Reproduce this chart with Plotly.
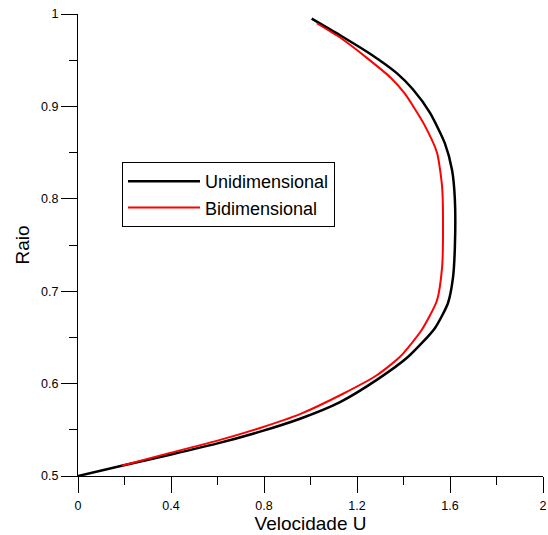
import plotly.graph_objects as go

# Unidimensional (black) curve: velocity U vs radius
uni_u = [0.0, 0.188, 0.396, 0.596, 0.783, 0.955, 1.127, 1.285, 1.42, 1.535, 1.591,
         1.613, 1.621, 1.621, 1.609, 1.578, 1.514, 1.442, 1.371, 1.256, 1.127, 1.005]
uni_r = [0.500, 0.511, 0.523, 0.535, 0.548, 0.562, 0.580, 0.604, 0.629, 0.660, 0.687,
         0.715, 0.748, 0.799, 0.831, 0.860, 0.893, 0.918, 0.936, 0.957, 0.977, 0.995]

# Bidimensional (red) curve
bi_u = [0.188, 0.396, 0.596, 0.783, 0.955, 1.14, 1.285, 1.385, 1.478, 1.544, 1.566,
        1.570, 1.566, 1.544, 1.49, 1.447, 1.405, 1.345, 1.245, 1.13, 1.027]
bi_r = [0.511, 0.525, 0.538, 0.552, 0.567, 0.589, 0.609, 0.629, 0.658, 0.690, 0.726,
        0.769, 0.813, 0.850, 0.880, 0.898, 0.914, 0.931, 0.952, 0.974, 0.990]

x_ticks = [0, 0.4, 0.8, 1.2, 1.6, 2]
x_labels = ["0", "0.4", "0.8", "1.2", "1.6", "2"]
y_ticks = [0.5, 0.6, 0.7, 0.8, 0.9, 1.0]
y_labels = ["0.5", "0.6", "0.7", "0.8", "0.9", "1"]

FONT = "Liberation Sans, Arial, sans-serif"

fig = go.Figure()
fig.add_trace(go.Scatter(x=uni_u, y=uni_r, mode="lines", name="Unidimensional",
                         line=dict(color="black", width=2.5, shape="spline", smoothing=0.6)))
fig.add_trace(go.Scatter(x=bi_u, y=bi_r, mode="lines", name="Bidimensional",
                         line=dict(color="#ff0000", width=2, shape="spline", smoothing=0.6)))

axis_common = dict(
    showgrid=False, zeroline=False, showline=True, linecolor="black", linewidth=1,
    ticks="outside", ticklen=16, tickwidth=1, tickcolor="black", automargin=False,
    ticklabeloverflow="allow",
    tickfont=dict(family=FONT, size=12.5, color="black"),
)

fig.update_xaxes(range=[0, 2], tickvals=x_ticks, ticktext=x_labels, ticklabelstandoff=2,
                 minor=dict(dtick=0.2, ticks="outside", ticklen=8, tickcolor="black", tickwidth=1),
                 title=dict(text="Velocidade U", font=dict(family=FONT, size=19, color="black"), standoff=0),
                 **axis_common)
fig.update_yaxes(range=[0.5, 1], tickvals=y_ticks, ticktext=y_labels,
                 minor=dict(dtick=0.05, ticks="outside", ticklen=8, tickcolor="black", tickwidth=1),
                 title=dict(text="Raio", font=dict(family=FONT, size=19, color="black"), standoff=6),
                 **axis_common)

fig.update_layout(
    width=548, height=535,
    margin=dict(l=78, r=5, t=14, b=59),
    paper_bgcolor="white", plot_bgcolor="white",
    font=dict(family=FONT, color="black"),
    legend=dict(x=0.0946, y=0.6797, xanchor="left", yanchor="top",
                bordercolor="black", borderwidth=1, bgcolor="white",
                font=dict(family=FONT, size=18, color="black"),
                itemwidth=72, tracegroupgap=0),
)

# remove the default 8px page margin so the figure fills the window exactly
fig.write_html("out.html",
               config={"displayModeBar": False},
               post_script="document.body.style.margin='0';document.body.style.overflow='hidden';")
